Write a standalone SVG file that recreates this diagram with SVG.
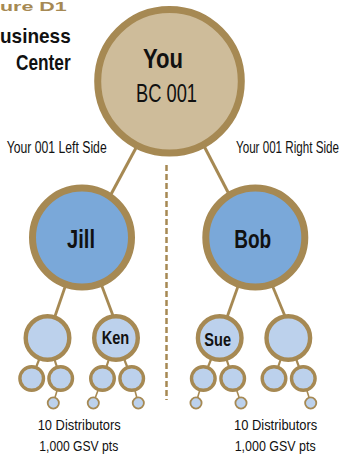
<svg xmlns="http://www.w3.org/2000/svg" width="346" height="456" viewBox="0 0 346 456">
  <style>
    .ring { stroke: #a68953; }
    .top { fill: #cebc9a; stroke-width: 7; }
    .l2 { fill: #7aa8d9; stroke-width: 7; }
    .l3 { fill: #bcd1ec; stroke-width: 4.4; }
    .l4 { fill: #bcd1ec; stroke-width: 3.4; }
    .l5 { fill: #bcd1ec; stroke-width: 1.8; }
    .link { stroke: #a68953; fill: none; stroke-linecap: butt; }
    .lbl { font-family: "Liberation Sans", Arial, sans-serif; fill: #111; }
    .b { font-weight: bold; }
    .mid { text-anchor: middle; }
  </style>

  <!-- heading fragments -->
  <text class="lbl b" transform="translate(0,10.5) scale(1.65,1)" x="0" y="0" font-size="13" style="fill:#a68953">ure D1</text>
  <text class="lbl b" x="0" y="43.3" font-size="21" textLength="70.7" lengthAdjust="spacingAndGlyphs">usiness</text>
  <text class="lbl b" x="16" y="70" font-size="22" textLength="54.7" lengthAdjust="spacingAndGlyphs">Center</text>

  <!-- side labels -->
  <text class="lbl" x="6.7" y="152.7" font-size="16" textLength="100" lengthAdjust="spacingAndGlyphs">Your 001 Left Side</text>
  <text class="lbl" transform="translate(236,152.7) scale(0.727,1)" x="0" y="0" font-size="16">Your 001 Right Side</text>

  <g id="connectors">
    <line class="link" x1="166.5" y1="165" x2="166.5" y2="400" stroke-width="2.5" stroke-dasharray="6 3"/>
    <line class="link" x1="137" y1="146" x2="109" y2="198" stroke-width="3"/>
    <line class="link" x1="204" y1="146" x2="231" y2="198" stroke-width="3"/>
    <line class="link" x1="82" y1="237.5" x2="47.5" y2="338" stroke-width="2.8"/>
    <line class="link" x1="100" y1="281" x2="115" y2="321" stroke-width="2.8"/>
    <line class="link" x1="255.3" y1="237.5" x2="219.7" y2="338" stroke-width="2.8"/>
    <line class="link" x1="270" y1="280" x2="287" y2="321" stroke-width="2.8"/>
    <line class="link" x1="47.5" y1="338" x2="31.7" y2="378.5" stroke-width="2.2"/>
    <line class="link" x1="47.5" y1="338" x2="60.7" y2="378.5" stroke-width="2.2"/>
    <line class="link" x1="116" y1="338" x2="102.5" y2="378.5" stroke-width="2.2"/>
    <line class="link" x1="116" y1="338" x2="131.7" y2="378.5" stroke-width="2.2"/>
    <line class="link" x1="219.7" y1="338" x2="203.3" y2="378.5" stroke-width="2.2"/>
    <line class="link" x1="219.7" y1="338" x2="232.7" y2="378.5" stroke-width="2.2"/>
    <line class="link" x1="288.3" y1="338" x2="274" y2="378.5" stroke-width="2.2"/>
    <line class="link" x1="288.3" y1="338" x2="303.3" y2="378.5" stroke-width="2.2"/>
    <line class="link" x1="60.7" y1="378.5" x2="53.3" y2="403" stroke-width="1.6"/>
    <line class="link" x1="102.5" y1="378.5" x2="93.3" y2="403" stroke-width="1.6"/>
    <line class="link" x1="131.7" y1="378.5" x2="138.3" y2="403" stroke-width="1.6"/>
    <line class="link" x1="203.3" y1="378.5" x2="196" y2="403" stroke-width="1.6"/>
    <line class="link" x1="232.7" y1="378.5" x2="241" y2="403" stroke-width="1.6"/>
    <line class="link" x1="303.3" y1="378.5" x2="310.7" y2="403" stroke-width="1.6"/>
  </g>

  <g id="you">
    <circle class="ring top" cx="169.5" cy="81.3" r="71.8"/>
    <text class="lbl b mid" x="163" y="68" font-size="28" textLength="40" lengthAdjust="spacingAndGlyphs">You</text>
    <text class="lbl mid" x="166.5" y="101.7" font-size="25" textLength="61" lengthAdjust="spacingAndGlyphs">BC 001</text>
  </g>

  <g id="jill">
    <circle class="ring l2" cx="82" cy="237.5" r="49.5"/>
    <text class="lbl b mid" x="81" y="248" font-size="25" textLength="28" lengthAdjust="spacingAndGlyphs">Jill</text>
  </g>
  <g id="bob">
    <circle class="ring l2" cx="255.3" cy="237.5" r="49.5"/>
    <text class="lbl b mid" x="252.7" y="248" font-size="25" textLength="37" lengthAdjust="spacingAndGlyphs">Bob</text>
  </g>

  <g id="jill-left"><circle class="ring l3" cx="47.5" cy="338" r="21.8"/></g>
  <g id="ken">
    <circle class="ring l3" cx="116" cy="338" r="21.8"/>
    <text class="lbl b mid" x="115.5" y="344.3" font-size="17.5" textLength="27.6" lengthAdjust="spacingAndGlyphs">Ken</text>
  </g>
  <g id="sue">
    <circle class="ring l3" cx="219.7" cy="338" r="21.8"/>
    <text class="lbl b mid" x="217.7" y="346.3" font-size="18" textLength="26.7" lengthAdjust="spacingAndGlyphs">Sue</text>
  </g>
  <g id="bob-right"><circle class="ring l3" cx="288.3" cy="338" r="21.8"/></g>

  <g id="level4">
    <g id="d1"><circle class="ring l4" cx="31.7" cy="378.5" r="11.8"/></g>
    <g id="d2"><circle class="ring l4" cx="60.7" cy="378.5" r="11.8"/></g>
    <g id="d3"><circle class="ring l4" cx="102.5" cy="378.5" r="11.8"/></g>
    <g id="d4"><circle class="ring l4" cx="131.7" cy="378.5" r="11.8"/></g>
    <g id="d5"><circle class="ring l4" cx="203.3" cy="378.5" r="11.8"/></g>
    <g id="d6"><circle class="ring l4" cx="232.7" cy="378.5" r="11.8"/></g>
    <g id="d7"><circle class="ring l4" cx="274" cy="378.5" r="11.8"/></g>
    <g id="d8"><circle class="ring l4" cx="303.3" cy="378.5" r="11.8"/></g>
  </g>

  <g id="level5">
    <g id="e1"><circle class="ring l5" cx="53.3" cy="403" r="5.6"/></g>
    <g id="e2"><circle class="ring l5" cx="93.3" cy="403" r="5.6"/></g>
    <g id="e3"><circle class="ring l5" cx="138.3" cy="403" r="5.6"/></g>
    <g id="e4"><circle class="ring l5" cx="196" cy="403" r="5.6"/></g>
    <g id="e5"><circle class="ring l5" cx="241" cy="403" r="5.6"/></g>
    <g id="e6"><circle class="ring l5" cx="310.7" cy="403" r="5.6"/></g>
  </g>

  <!-- team totals -->
  <text class="lbl" x="37.7" y="430" font-size="14.5" textLength="83" lengthAdjust="spacingAndGlyphs">10 Distributors</text>
  <text class="lbl" x="39.3" y="451" font-size="14.5" textLength="79" lengthAdjust="spacingAndGlyphs">1,000 GSV pts</text>
  <text class="lbl" x="234" y="430" font-size="14.5" textLength="83.3" lengthAdjust="spacingAndGlyphs">10 Distributors</text>
  <text class="lbl" x="234.7" y="451" font-size="14.5" textLength="81" lengthAdjust="spacingAndGlyphs">1,000 GSV pts</text>
</svg>
